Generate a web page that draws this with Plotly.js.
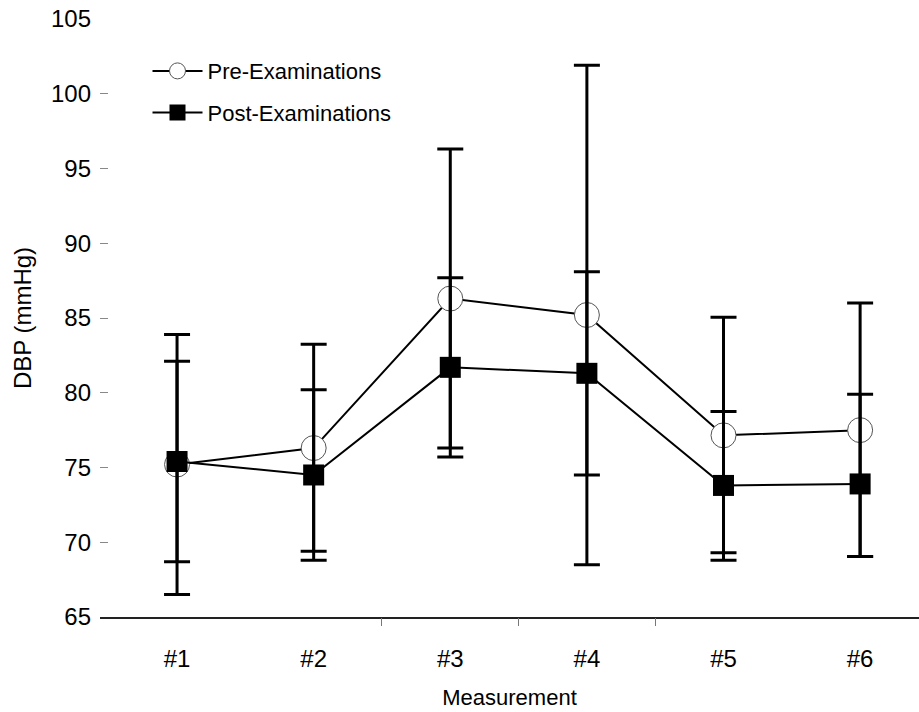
<!DOCTYPE html>
<html>
<head>
<meta charset="utf-8">
<script src="https://cdn.plot.ly/plotly-3.0.1.min.js"></script>
<style>html,body{margin:0;padding:0;background:#fff;}#chart{width:919px;height:712px;}</style>
</head>
<body>
<div id="chart"></div>
<script>
const categories = ['#1', '#2', '#3', '#4', '#5', '#6'];
const preValues = [75.2, 76.3, 86.3, 85.2, 77.15, 77.5];
const prePlus = [8.7, 6.95, 10.0, 16.7, 7.9, 8.5];
const preMinus = [8.7, 6.9, 10.0, 16.7, 7.85, 8.45];
const postValues = [75.4, 74.5, 81.7, 81.3, 73.8, 73.9];
const postPlus = [6.7, 5.7, 6.0, 6.8, 4.95, 6.0];
const postMinus = [6.7, 5.7, 6.0, 6.8, 5.0, 4.85];
const yTicks = [65, 70, 75, 80, 85, 90, 95, 100, 105];
const xIdx = categories.map((c, i) => i);

const FONT = 'Liberation Sans, Arial, Helvetica, sans-serif';

function errCfg(plus, minus) {
  return {type: 'data', symmetric: false, array: plus, arrayminus: minus,
          color: '#000', thickness: 3, width: 13, visible: true};
}

const traces = [
  {x: xIdx, y: preValues, mode: 'lines+markers', name: 'Pre-Examinations',
   legendgroup: 'a', line: {color: '#000', width: 2},
   marker: {symbol: 'circle', size: 25, color: '#fff', line: {color: '#555', width: 1}}},
  {x: xIdx, y: postValues, mode: 'lines+markers', name: 'Post-Examinations',
   legendgroup: 'b', line: {color: '#000', width: 2},
   marker: {symbol: 'square', size: 21, color: '#000', line: {color: '#000', width: 0}}},
  {x: xIdx, y: preValues, mode: 'markers', showlegend: false, hoverinfo: 'skip',
   marker: {size: 1, opacity: 0}, error_y: errCfg(prePlus, preMinus)},
  {x: xIdx, y: postValues, mode: 'markers', showlegend: false, hoverinfo: 'skip',
   marker: {size: 1, opacity: 0}, error_y: errCfg(postPlus, postMinus)},
  {x: [1.5, 2.5, 3.5], y: [65, 65, 65], xaxis: 'x2', mode: 'markers', showlegend: false,
   hoverinfo: 'skip', marker: {size: 1, opacity: 0}}
];

const layout = {
  width: 919, height: 712,
  margin: {l: 100, r: 0, t: 19, b: 95},
  paper_bgcolor: '#fff', plot_bgcolor: '#fff',
  font: {family: FONT, color: '#000'},
  showlegend: true,
  legend: {x: 0.058, y: 0.948, xanchor: 'left', yanchor: 'top', bgcolor: 'rgba(0,0,0,0)',
           font: {size: 22, family: FONT}, traceorder: 'grouped', tracegroupgap: 10,
           itemwidth: 50},
  xaxis: {
    range: [-0.564, 5.431], tickmode: 'array', tickvals: xIdx, ticktext: categories,
    showgrid: false, zeroline: false, showline: true, linecolor: '#222', linewidth: 1.5,
    ticks: '', tickfont: {size: 24, family: FONT}, ticklabelstandoff: 20,
    title: {text: 'Measurement', font: {size: 22, family: FONT}, standoff: 18}
  },
  xaxis2: {
    overlaying: 'x', range: [-0.564, 5.431], tickmode: 'array', tickvals: [1.5, 2.5, 3.5],
    showticklabels: false, ticks: 'outside', ticklen: 8, tickcolor: '#777', tickwidth: 1,
    showgrid: false, zeroline: false, showline: false, side: 'bottom', anchor: 'y'
  },
  yaxis: {
    range: [65, 105], tickmode: 'array', tickvals: yTicks, showgrid: false, zeroline: false,
    showline: false, ticks: 'inside', ticklen: 8, tickcolor: '#888', tickwidth: 1,
    tickfont: {size: 24, family: FONT}, ticklabelstandoff: 8,
    title: {text: 'DBP (mmHg)', font: {size: 24, family: FONT}, standoff: 12}
  }
};

Plotly.newPlot('chart', traces, layout, {displayModeBar: false, staticPlot: true});
</script>
</body>
</html>
